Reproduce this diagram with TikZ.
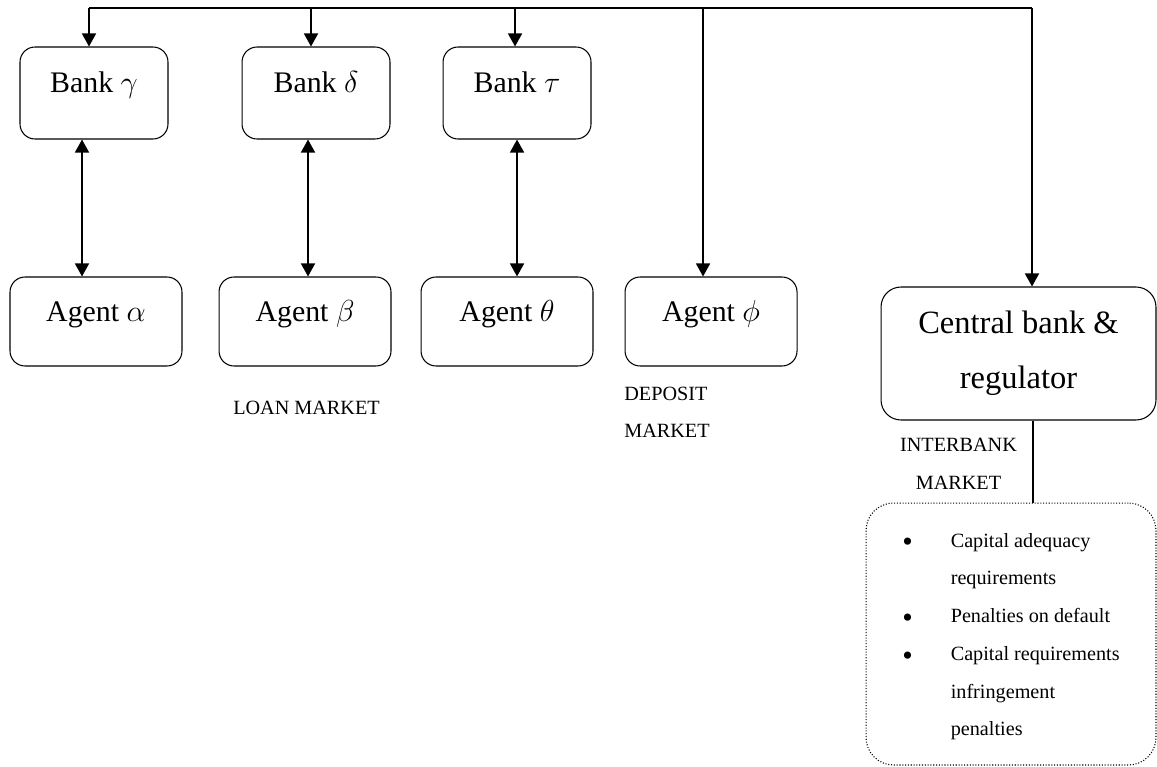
\documentclass[tikz,border=0pt]{standalone}
\usepackage{fontspec}
\setmainfont{Liberation Serif}
\usetikzlibrary{arrows.meta, positioning}
\newcommand{\bigbul}{\raisebox{-2.6pt}{\fontsize{17}{17}\selectfont\textbullet}}
\tikzset{
  rbox/.style={rectangle, rounded corners=#1, draw, line width=0.6pt,
               inner sep=0pt, align=center},
  rbox/.default=0.3cm,
  bankbox/.style={rbox, minimum width=2.96cm, minimum height=1.84cm,
                  text height=0.5cm, text depth=0.5cm,
                  font=\fontsize{17}{20}\selectfont},
  agentbox/.style={rbox, minimum width=3.44cm, minimum height=1.78cm,
                   text height=0.5cm, text depth=0.5cm,
                   font=\fontsize{17}{20}\selectfont},
  mktlbl/.style={inner sep=0pt, font=\fontsize{11.5}{21.6}\selectfont},
  conn/.style={line width=0.85pt},
  arr/.style={conn, -{Triangle[length=0.26cm, width=0.28cm]}},
  darr/.style={conn, {Triangle[length=0.26cm, width=0.28cm]}-{Triangle[length=0.26cm, width=0.28cm]}},
}

\begin{document}
\begin{tikzpicture}[x=0.02cm, y=-0.02cm]
  \useasboundingbox (0,0) rectangle (1157,767);

  \node[bankbox] (bankg) at (94,93) {Bank $\gamma$};
  \node[bankbox, right=1.46cm of bankg] (bankd) {Bank $\delta$};
  \node[bankbox, right=1.04cm of bankd] (bankt) {Bank $\tau$};

  \node[agentbox] (agenta) at (96,321.5) {Agent $\alpha$};
  \node[agentbox, right=0.72cm of agenta] (agentb) {Agent $\beta$};
  \node[agentbox, right=0.58cm of agentb] (agentt) {Agent $\theta$};
  \node[agentbox, right=0.62cm of agentt] (agentf) {Agent $\phi$};

  \node[rbox=0.4cm, minimum width=5.5cm, minimum height=2.66cm,
        font=\fontsize{18.5}{31.3}\selectfont] (cbank) at (1018.5,353.5)
    {Central bank \&\\regulator};
  \node[rbox=0.55cm, densely dotted, minimum width=5.8cm, minimum height=5.24cm,
        font=\fontsize{11.5}{21.5}\selectfont] (rules) at (1011,634)
    {\begin{tabular}{@{}l@{\hspace{0.76cm}}l@{}}
       \bigbul & Capital adequacy\\
               & requirements\\
       \bigbul & Penalties on default\\
       \bigbul & Capital requirements\\
               & infringement\\
               & penalties
     \end{tabular}};

  \node[mktlbl] (loanlbl) at (306.5,408) {LOAN MARKET};
  \node[mktlbl, anchor=west, align=left] (deplbl) at (624,412.3) {DEPOSIT\\MARKET};
  \node[mktlbl, align=center] (interlbl) at (958.5,464) {INTERBANK\\MARKET};

  \coordinate (busl) at (89,8);
  \coordinate (busr) at (1032,8);
  \draw[conn] (busl) -- (busr);
  \foreach \n/\dx in {bankg/-0.1, bankd/-0.1, bankt/-0.04, agentf/-0.16, cbank/0.27}
    \draw[arr] ([xshift=\dx cm]\n.north |- busl) -- ([xshift=\dx cm]\n.north);
  \foreach \b/\a/\dx in {bankg/agenta/-0.24, bankd/agentb/-0.16, bankt/agentt/0}
    \draw[darr] ([xshift=\dx cm]\b.south) -- ([xshift=\dx cm]\b.south |- \a.north);
  \draw[conn] ([xshift=0.29cm]cbank.south) -- ([xshift=0.29cm]cbank.south |- rules.north);
\end{tikzpicture}
\end{document}
